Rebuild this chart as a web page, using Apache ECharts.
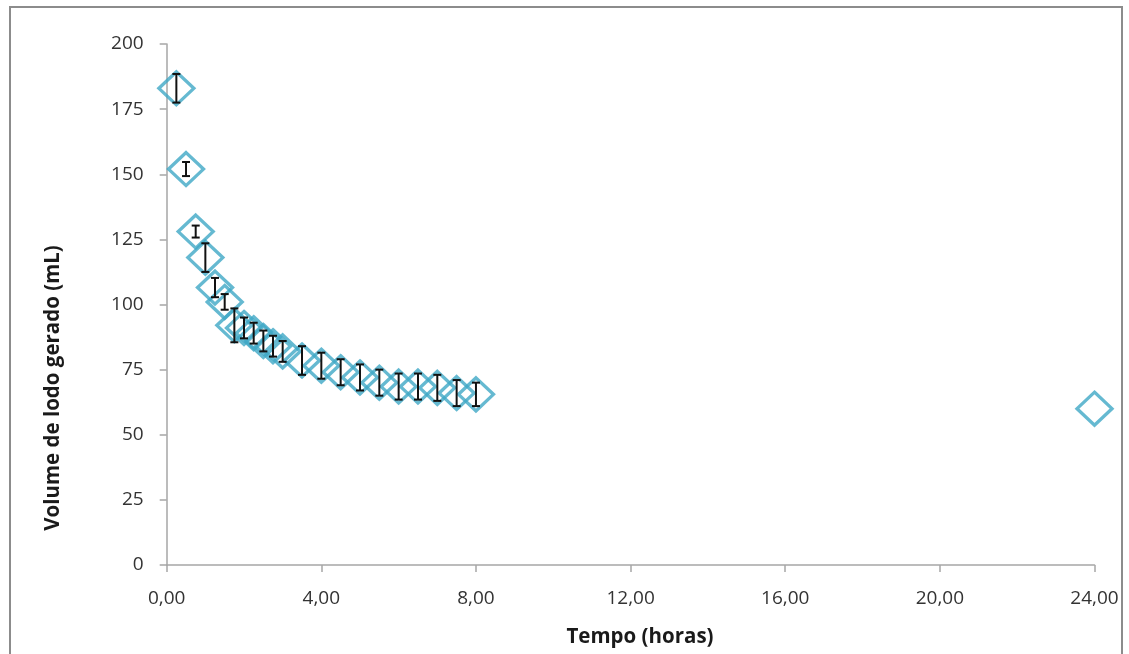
<!DOCTYPE html>
<html>
<head>
<meta charset="utf-8">
<script src="https://cdn.jsdelivr.net/npm/echarts@6/dist/echarts.min.js"></script>
<style>
html,body{margin:0;padding:0;background:#fff;}
#c{width:1129px;height:654px;}
</style>
</head>
<body>
<div id="c"></div>
<script>
const hours  = [0.25, 0.5, 0.75, 1.0, 1.25, 1.5, 1.75, 2.0, 2.25, 2.5, 2.75, 3.0, 3.5, 4.0, 4.5, 5.0, 5.5, 6.0, 6.5, 7.0, 7.5, 8.0, 24.0];
const volume = [183, 152, 128, 118, 106.5, 101, 92, 91, 89, 86, 84, 82, 78.5, 76.5, 74, 72, 70, 68.5, 68.5, 68, 66, 65.5, 60];
const errors = [5.5, 2.7, 2.3, 5.5, 3.7, 3, 6.5, 4, 4, 4, 4, 4, 5.5, 5, 5, 5, 5, 5, 5, 5, 5, 4.5, 0];
const yTicks = [0, 25, 50, 75, 100, 125, 150, 175, 200];
const xTicks = [0, 4, 8, 12, 16, 20, 24];

const pts = hours.map((h, i) => [h, volume[i]]);
const errData = hours.map((h, i) => [h, volume[i] - errors[i], volume[i] + errors[i]]).filter(d => d[2] > d[1]);

const FONT = 'Open Sans';
const chart = echarts.init(document.getElementById('c'));
chart.setOption({
  animation: false,
  backgroundColor: '#fff',
  grid: {left: 166.7, right: 34.5, top: 44, bottom: 89, containLabel: false},
  xAxis: {
    type: 'value', min: xTicks[0], max: xTicks[xTicks.length - 1], interval: 4,
    axisLine: {show: true, lineStyle: {color: '#a6a6a6', width: 1.5}},
    axisTick: {show: true, length: 7, lineStyle: {color: '#a6a6a6', width: 1.5}},
    splitLine: {show: false},
    axisLabel: {
      margin: 24, fontFamily: FONT, fontSize: 19, color: '#333',
      formatter: v => v.toFixed(2).replace('.', ',')
    }
  },
  yAxis: {
    type: 'value', min: yTicks[0], max: yTicks[yTicks.length - 1], interval: 25,
    axisLine: {show: true, lineStyle: {color: '#a6a6a6', width: 1.5}},
    axisTick: {show: true, length: 7, lineStyle: {color: '#a6a6a6', width: 1.5}},
    splitLine: {show: false},
    axisLabel: {margin: 23, fontFamily: FONT, fontSize: 19, color: '#333'}
  },
  graphic: [
    {type: 'rect', shape: {x: 10, y: 7, width: 1112, height: 660}, style: {fill: 'none', stroke: '#8c8c8c', lineWidth: 2}, silent: true},
    {type: 'text', x: 53, y: 388, rotation: Math.PI / 2, style: {text: 'Volume de lodo gerado (mL)', font: 'bold 20.5px "Open Sans"', fill: '#1a1a1a', align: 'center', verticalAlign: 'middle'}},
    {type: 'text', x: 640, y: 637, style: {text: 'Tempo (horas)', font: 'bold 20.5px "Open Sans"', fill: '#1a1a1a', align: 'center', verticalAlign: 'middle'}}
  ],
  series: [
    {
      type: 'scatter', data: pts, symbol: 'diamond', symbolSize: [35, 33],
      itemStyle: {color: 'rgba(255,255,255,0)', borderColor: '#3FA8C5', borderWidth: 3.3},
      z: 2
    },
    {
      type: 'custom', data: errData, z: 3,
      renderItem: function (params, api) {
        const x = api.value(0);
        const lo = api.coord([x, api.value(1)]);
        const hi = api.coord([x, api.value(2)]);
        const cw = 4;
        const st = {stroke: '#111', lineWidth: 2};
        return {type: 'group', children: [
          {type: 'line', shape: {x1: lo[0], y1: lo[1], x2: hi[0], y2: hi[1]}, style: st},
          {type: 'line', shape: {x1: lo[0] - cw, y1: lo[1], x2: lo[0] + cw, y2: lo[1]}, style: st},
          {type: 'line', shape: {x1: hi[0] - cw, y1: hi[1], x2: hi[0] + cw, y2: hi[1]}, style: st}
        ]};
      }
    }
  ]
});
</script>
</body>
</html>
